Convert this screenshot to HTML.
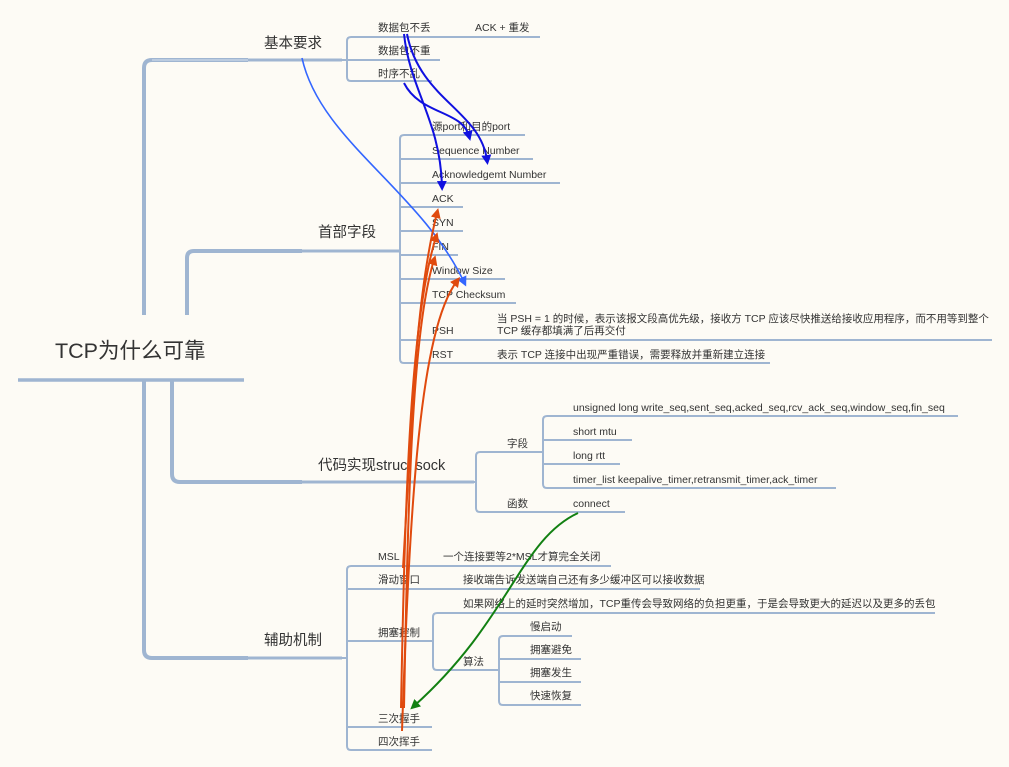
<!DOCTYPE html>
<html><head><meta charset="utf-8"><style>
html,body{margin:0;padding:0;background:#fdfbf5;}
svg{display:block;}
text{font-family:"Liberation Sans","Noto Sans CJK SC",sans-serif;fill:#333;}
.s{font-size:10.5px;}
.m{font-size:14.5px;}
</style></head><body>
<svg width="1009" height="767" viewBox="0 0 1009 767" xmlns="http://www.w3.org/2000/svg">
<defs>
<marker id="ab" markerWidth="10" markerHeight="10" refX="5" refY="5" orient="auto" markerUnits="userSpaceOnUse"><path d="M0,0 L10,5 L0,10 z" fill="#1010e0"/></marker>
<marker id="al" markerWidth="10" markerHeight="10" refX="5" refY="5" orient="auto" markerUnits="userSpaceOnUse"><path d="M0,0 L10,5 L0,10 z" fill="#3366ff"/></marker>
<marker id="ao" markerWidth="10" markerHeight="10" refX="5" refY="5" orient="auto" markerUnits="userSpaceOnUse"><path d="M0,0 L10,5 L0,10 z" fill="#e04a0e"/></marker>
<marker id="ag" markerWidth="10" markerHeight="10" refX="5" refY="5" orient="auto" markerUnits="userSpaceOnUse"><path d="M0,0 L10,5 L0,10 z" fill="#128012"/></marker>
</defs>
<rect width="1009" height="767" fill="#fdfbf5"/>
<g fill="none" stroke="#9fb5d1" stroke-linecap="butt">
<line x1="18" y1="380" x2="244" y2="380" stroke-width="3.5"/>
<path d="M144 315 V68 Q144 60 152 60 H248" stroke-width="4"/>
<path d="M187 315 V258 Q187 251 194 251 H302" stroke-width="4"/>
<path d="M144 380 V650 Q144 658 152 658 H248" stroke-width="4"/>
<path d="M172 380 V474 Q172 482 180 482 H302" stroke-width="4"/>
<line x1="152" y1="60" x2="248" y2="60" stroke="#c6d4e6" stroke-width="1.5"/>
<line x1="248" y1="60" x2="342" y2="60" stroke-width="3"/>
<line x1="302" y1="251" x2="400" y2="251" stroke-width="3"/>
<line x1="302" y1="482" x2="474" y2="482" stroke-width="3"/>
<line x1="248" y1="658" x2="342" y2="658" stroke-width="3"/>
<g stroke-width="2">
<path d="M342 60 H347 M347 60 V41 Q347 37 351 37 H540"/>
<path d="M347 60 H440"/>
<path d="M347 60 V77 Q347 81 351 81 H432"/>
<path d="M400 251 V139 Q400 135 404 135 H525"/>
<path d="M400 251 V359 Q400 363 404 363 H770"/>
<path d="M400 159 H533 M400 183 H560 M400 207 H463 M400 231 H463 M400 255 H458 M400 279 H505 M400 303 H516 M400 340 H992"/>
<path d="M474 482 H476 V456 Q476 452 480 452 H543"/>
<path d="M476 482 V508 Q476 512 480 512 H625"/>
<path d="M543 452 V420 Q543 416 547 416 H958"/>
<path d="M543 452 V484 Q543 488 547 488 H836"/>
<path d="M543 440 H632 M543 464 H620"/>
<path d="M342 658 H347 V570 Q347 566 351 566 H611"/>
<path d="M347 658 V746 Q347 750 351 750 H432"/>
<path d="M347 589 H700 M347 641 H433 M347 727 H432"/>
<path d="M433 641 V617 Q433 613 437 613 H935"/>
<path d="M433 641 V666 Q433 670 437 670 H499"/>
<path d="M499 670 V640 Q499 636 503 636 H572"/>
<path d="M499 670 V701 Q499 705 503 705 H581"/>
<path d="M499 659 H581 M499 682 H581"/>
</g>
</g>
<text x="55" y="358" style="font-size:21.5px">TCP为什么可靠</text>
<text class="m" x="264" y="48">基本要求</text>
<text class="m" x="318" y="237">首部字段</text>
<text class="m" x="318" y="470">代码实现struct sock</text>
<text class="m" x="264" y="645">辅助机制</text>
<g class="s">
<text x="378" y="31">数据包不丢</text><text x="475" y="31">ACK + 重发</text>
<text x="378" y="54">数据包不重</text>
<text x="378" y="77">时序不乱</text>
<text x="432" y="130">源port和目的port</text>
<text x="432" y="154">Sequence Number</text>
<text x="432" y="178">Acknowledgemt Number</text>
<text x="432" y="202">ACK</text>
<text x="432" y="226">SYN</text>
<text x="432" y="250">FIN</text>
<text x="432" y="274">Window Size</text>
<text x="432" y="298">TCP Checksum</text>
<text x="432" y="334">PSH</text>
<text x="497" y="322">当 PSH = 1 的时候，表示该报文段高优先级，接收方 TCP 应该尽快推送给接收应用程序，而不用等到整个</text>
<text x="497" y="334">TCP 缓存都填满了后再交付</text>
<text x="432" y="358">RST</text>
<text x="497" y="358">表示 TCP 连接中出现严重错误，需要释放并重新建立连接</text>
<text x="507" y="447">字段</text>
<text x="507" y="507">函数</text>
<text x="573" y="411">unsigned long write_seq,sent_seq,acked_seq,rcv_ack_seq,window_seq,fin_seq</text>
<text x="573" y="435">short mtu</text>
<text x="573" y="459">long rtt</text>
<text x="573" y="483">timer_list keepalive_timer,retransmit_timer,ack_timer</text>
<text x="573" y="507">connect</text>
<text x="378" y="560">MSL</text><text x="443" y="560">一个连接要等2*MSL才算完全关闭</text>
<text x="378" y="583">滑动窗口</text><text x="463" y="583">接收端告诉发送端自己还有多少缓冲区可以接收数据</text>
<text x="378" y="636">拥塞控制</text>
<text x="463" y="607">如果网络上的延时突然增加，TCP重传会导致网络的负担更重，于是会导致更大的延迟以及更多的丢包</text>
<text x="463" y="665">算法</text>
<text x="530" y="630">慢启动</text>
<text x="530" y="653">拥塞避免</text>
<text x="530" y="676">拥塞发生</text>
<text x="530" y="699">快速恢复</text>
<text x="378" y="722">三次握手</text>
<text x="378" y="745">四次挥手</text>
</g>
<g fill="none" stroke-width="2">
<path d="M404 34 C410 90 440 120 442 186" stroke="#1010e0" marker-end="url(#ab)"/>
<path d="M407 34 C420 100 480 110 487 160" stroke="#1010e0" marker-end="url(#ab)"/>
<path d="M404 83 C420 115 462 110 469 136" stroke="#1010e0" marker-end="url(#ab)"/>
<path d="M302 58 C320 140 420 190 464 282" stroke="#3366ff" stroke-width="1.6" marker-end="url(#al)"/>
<path d="M403 568 C412 420 415 300 437 213" stroke="#e04a0e" marker-end="url(#ao)"/>
<path d="M401 708 C405 500 410 320 436 237" stroke="#e04a0e" marker-end="url(#ao)"/>
<path d="M404 708 C408 500 412 330 434 260" stroke="#e04a0e" marker-end="url(#ao)"/>
<path d="M402 731 C410 500 420 330 457 281" stroke="#e04a0e" marker-end="url(#ao)"/>
<path d="M578 513 C520 540 510 620 414 706" stroke="#128012" marker-end="url(#ag)"/>
</g>
</svg>
</body></html>
